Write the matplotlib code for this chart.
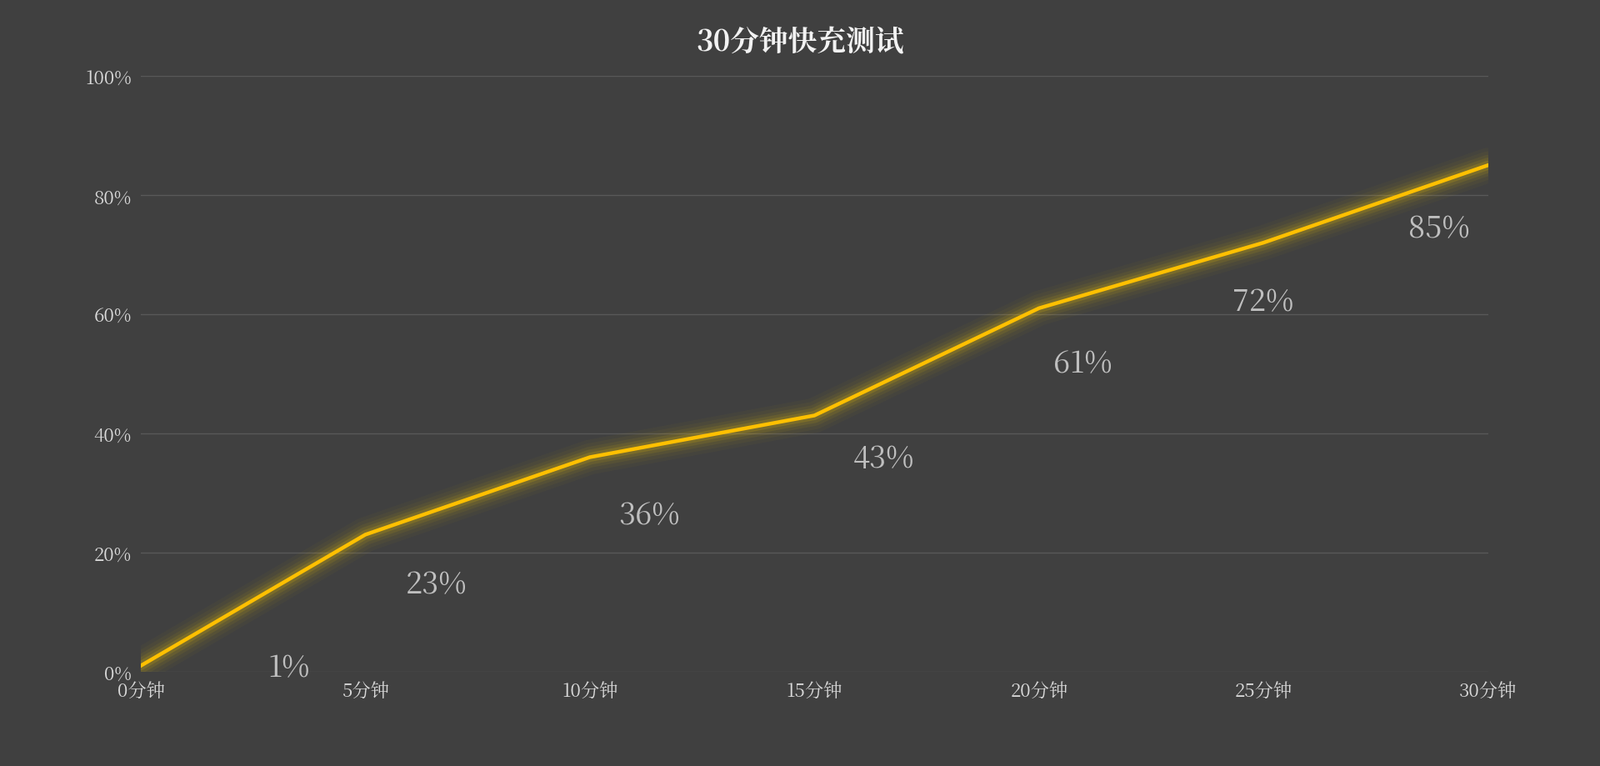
import matplotlib
matplotlib.use("Agg")
import matplotlib.pyplot as plt
from matplotlib import font_manager
from matplotlib.ticker import PercentFormatter

# find an installed CJK font by name
cjk = [f.name for f in font_manager.fontManager.ttflist if "CJK" in f.name]
cjk_name = next((n for n in cjk if "SC" in n), cjk[0] if cjk else "DejaVu Sans")
plt.rcParams["font.family"] = "sans-serif"
plt.rcParams["font.sans-serif"] = [cjk_name, "DejaVu Sans"]

# data
categories = ["0分钟", "5分钟", "10分钟", "15分钟", "20分钟", "25分钟", "30分钟"]
charge = [1, 23, 36, 43, 61, 72, 85]
title = "30分钟快充测试"

# label offsets (points) — picked by eye from the reference
label_offsets = [(128, -2), (61, -43), (51, -50), (60, -37), (38, -48), (0, -51), (-42, -55)]

bg = "#404040"
fig = plt.figure(figsize=(19.2, 9.2), dpi=100, facecolor=bg)
ax = fig.add_axes([0.088, 0.123, 0.842, 0.777], facecolor=bg)

x = list(range(len(categories)))
# glow
for lw, a in [(30, 0.03), (24, 0.04), (18, 0.06), (13, 0.09), (8, 0.14)]:
    ax.plot(x, charge, color="#ffd200", lw=lw, alpha=a, solid_capstyle="round", zorder=2)
ax.plot(x, charge, color="#ffc000", lw=3.2, zorder=3)

for xi, v, off in zip(x, charge, label_offsets):
    ax.annotate(f"{v}%", (xi, v), xytext=off, textcoords="offset points",
                ha="center", va="center", fontsize=26, color="#bfbfbf", zorder=4)

ax.set_xlim(0, len(categories) - 1)
ax.set_ylim(0, 100)
ax.set_yticks(range(0, 101, 20))
ax.yaxis.set_major_formatter(PercentFormatter(decimals=0))
ax.set_xticks(x)
ax.set_xticklabels(categories)
ax.tick_params(colors="#d9d9d9", labelsize=16, length=0, pad=8)
ax.grid(axis="y", color="#595959", lw=1)
ax.set_axisbelow(True)
for s in ax.spines.values():
    s.set_visible(False)

fig.text(0.5, 0.945, title, ha="center", va="center", fontsize=25,
         fontweight="bold", color="#f2f2f2")

fig.savefig("out.png", facecolor=bg)
